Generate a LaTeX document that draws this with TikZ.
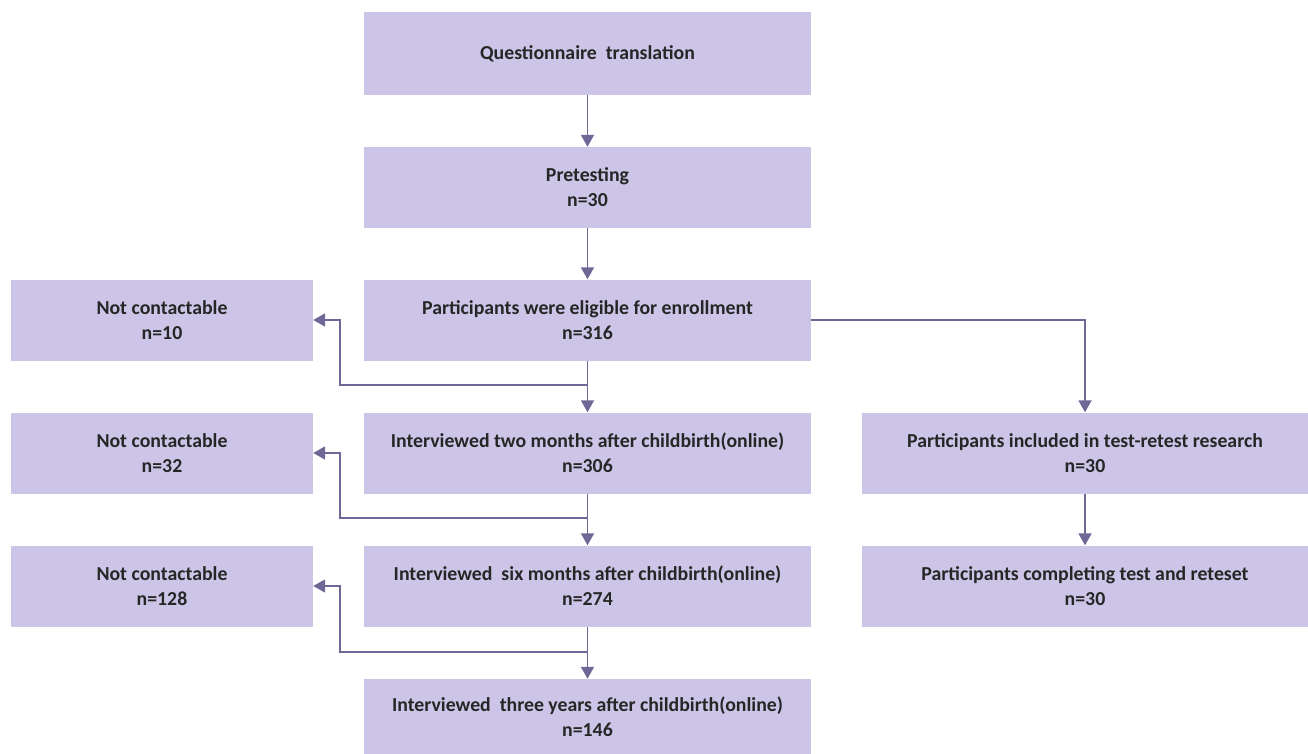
\documentclass[tikz,border=0pt]{standalone}
\usepackage{fontspec}
\setmainfont{Carlito}
\usetikzlibrary{arrows.meta,calc}
\definecolor{boxfill}{RGB}{205,197,231}
\definecolor{linecol}{RGB}{110,104,150}
\begin{document}
\begin{tikzpicture}[x=1pt,y=-1pt,
  box/.style={fill=boxfill,draw=none,inner sep=0pt,align=center,
    font=\fontsize{19.8}{25}\selectfont\bfseries,text=black!85},
  mainbox/.style={box,minimum width=447pt,minimum height=81pt},
  sidebox/.style={box,minimum width=302pt,minimum height=81pt},
  conn/.style={draw=linecol,line width=1.8pt},
  arr/.style={conn,-{Triangle[length=12pt,width=13pt]}}]
\useasboundingbox (0,0) rectangle (1308,754);
\node[mainbox,minimum height=83pt] (b1) at (587.5,53.5) {Questionnaire\ \ translation};
\node[mainbox] (b2) at (587.5,187.5) {Pretesting\\n=30};
\node[mainbox] (b3) at (587.5,320) {Participants were eligible for enrollment\\n=316};
\node[mainbox] (b4) at (587.5,453) {Interviewed two months after childbirth(online)\\n=306};
\node[mainbox] (b5) at (587.5,586) {Interviewed\ \ six months after childbirth(online)\\n=274};
\node[mainbox,minimum height=75pt] (b6) at (587.5,716.5) {Interviewed\ \ three years after childbirth(online)\\n=146};
\node[sidebox] (l1) at (162,320) {Not contactable\\n=10};
\node[sidebox] (l2) at (162,453) {Not contactable\\n=32};
\node[sidebox] (l3) at (162,586) {Not contactable\\n=128};
\node[mainbox] (r1) at (1085,453) {Participants included in test-retest research\\n=30};
\node[mainbox] (r2) at (1085,586) {Participants completing test and reteset\\n=30};
\draw[arr] (b1) -- (b2);
\draw[arr] (b2) -- (b3);
\draw[arr] (b3) -- (b4);
\draw[arr] (b4) -- (b5);
\draw[arr] (b5) -- (b6);
\draw[arr] (r1) -- (r2);
\draw[arr] (b3.east) -| (r1.north);
\coordinate (j1) at (587.5,385);
\coordinate (k1) at (340,385);
\coordinate (j2) at (587.5,518);
\coordinate (k2) at (340,518);
\coordinate (j3) at (587.5,652);
\coordinate (k3) at (340,652);
\draw[arr] (j1) -- (k1) |- (l1.east);
\draw[arr] (j2) -- (k2) |- (l2.east);
\draw[arr] (j3) -- (k3) |- (l3.east);
\end{tikzpicture}
\end{document}
